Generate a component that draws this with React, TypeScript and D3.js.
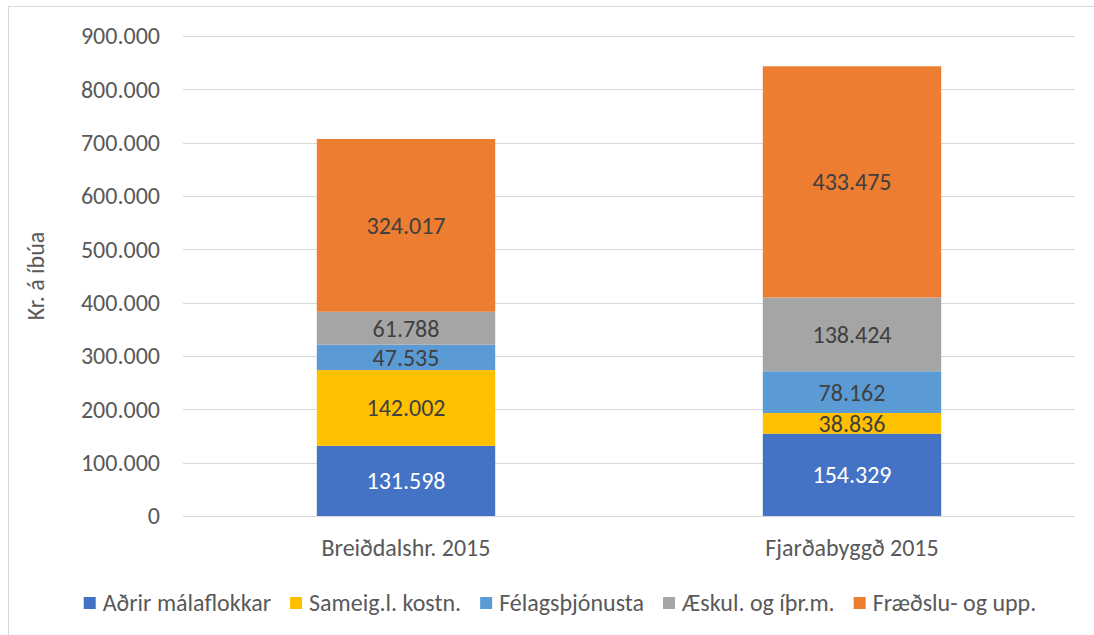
import React from "react";
import * as d3 from "d3";

const categories = ["Breiðdalshr. 2015", "Fjarðabyggð 2015"];
const seriesNames = ["Aðrir málaflokkar", "Sameig.l. kostn.", "Félagsþjónusta", "Æskul. og íþr.m.", "Fræðslu- og upp."];
const adrir = [131598, 154329];
const sameig = [142002, 38836];
const felags = [47535, 78162];
const aeskul = [61788, 138424];
const fraedslu = [324017, 433475];
const seriesColors = ["#4472C4", "#FFC000", "#5B9BD5", "#A5A5A5", "#ED7D31"];
const labelColors = ["#FFFFFF", "#404040", "#404040", "#404040", "#404040"];
const yTicks = [0, 100000, 200000, 300000, 400000, 500000, 600000, 700000, 800000, 900000];

const FONT = "Carlito, Calibri, 'Liberation Sans', sans-serif";
const FS = 24;

function fmt(v: number): string {
  return d3.format(",")(v).replace(/,/g, ".");
}

function measure(text: string, size: number): number {
  const c = document.createElement("canvas");
  const ctx = c.getContext("2d");
  if (!ctx) return text.length * size * 0.5;
  ctx.font = `${size}px ${FONT}`;
  return ctx.measureText(text).width;
}

export default function App() {
  const W = 1094, H = 635;
  const left = 183, right = 1075, top = 36, bottom = 516;
  const values = [adrir, sameig, felags, aeskul, fraedslu];
  const rows = categories.map((c, i) => {
    const r: any = { cat: c };
    seriesNames.forEach((s, k) => (r[s] = values[k][i]));
    return r;
  });
  const stacked = d3.stack<any>().keys(seriesNames)(rows);
  const x = d3.scaleBand<string>().domain(categories).range([left, right]).padding(0);
  const y = d3.scaleLinear().domain([0, 900000]).range([bottom, top]);
  const barW = x.bandwidth() * 0.4;

  // legend layout
  const sq = 12, gapText = 7, gapItem = 19;
  const widths = seriesNames.map((s) => measure(s, FS));
  const total = widths.reduce((a, w) => a + sq + gapText + w, 0) + gapItem * (seriesNames.length - 1);
  let lx = 560 - total / 2;
  const legendItems = seriesNames.map((s, i) => {
    const item = { name: s, x: lx, color: seriesColors[i] };
    lx += sq + gapText + widths[i] + gapItem;
    return item;
  });
  const legendY = 603;

  return (
    <div style={{ position: "absolute", left: 0, top: 0 }}>
      <svg width={W} height={H} style={{ display: "block", background: "#fff" }} fontFamily={FONT}>
        <rect x={8.5} y={6.5} width={1200} height={800} fill="#fff" stroke="#D9D9D9" strokeWidth={1} />
        {yTicks.map((t) => (
          <g key={t}>
            <line x1={left} x2={right} y1={Math.round(y(t)) + 0.5} y2={Math.round(y(t)) + 0.5} stroke="#D9D9D9" strokeWidth={1} />
            <text x={160} y={y(t)} dy="0.35em" textAnchor="end" fontSize={FS} fill="#595959">
              {fmt(t)}
            </text>
          </g>
        ))}
        <text transform={`translate(36,${(top + bottom) / 2}) rotate(-90)`} textAnchor="middle" dy="0.35em" fontSize={FS} fill="#595959">
          Kr. á íbúa
        </text>
        {stacked.map((layer, k) => (
          <g key={layer.key}>
            {layer.map((d, i) => {
              const cx = (x(categories[i]) as number) + x.bandwidth() / 2;
              const y0 = y(d[0]), y1 = y(d[1]);
              return (
                <g key={i}>
                  <rect x={cx - barW / 2} y={y1} width={barW} height={y0 - y1} fill={seriesColors[k]} />
                  <text x={cx} y={(y0 + y1) / 2} dy="0.35em" textAnchor="middle" fontSize={FS} fill={labelColors[k]}>
                    {fmt(d[1] - d[0])}
                  </text>
                </g>
              );
            })}
          </g>
        ))}
        {categories.map((c) => (
          <text key={c} x={(x(c) as number) + x.bandwidth() / 2} y={548} dy="0.35em" textAnchor="middle" fontSize={FS} fill="#595959">
            {c}
          </text>
        ))}
        {legendItems.map((it) => (
          <g key={it.name}>
            <rect x={it.x} y={legendY - sq / 2} width={sq} height={sq} fill={it.color} />
            <text x={it.x + sq + gapText} y={legendY} dy="0.35em" fontSize={FS} fill="#595959">
              {it.name}
            </text>
          </g>
        ))}
      </svg>
    </div>
  );
}
